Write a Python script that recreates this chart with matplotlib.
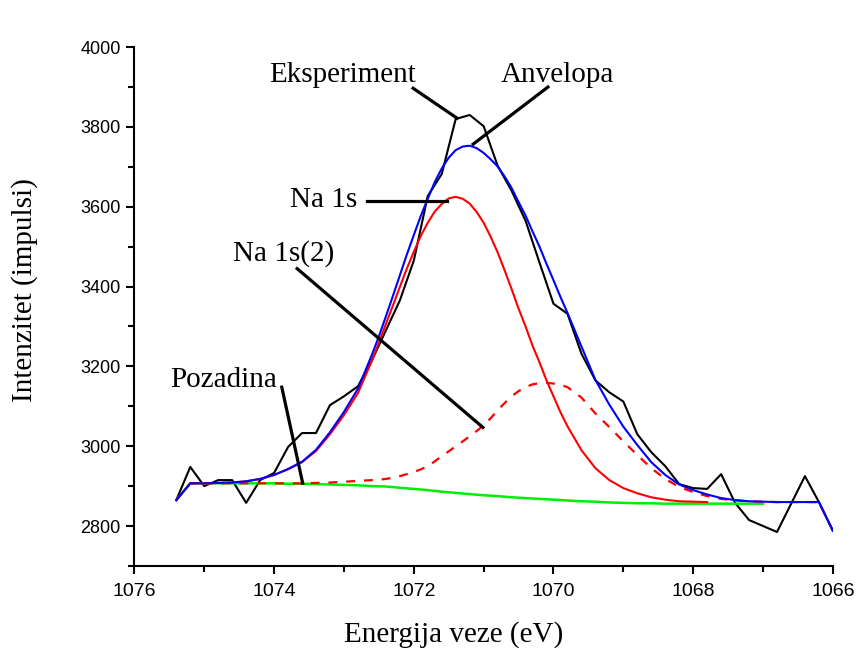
import matplotlib
matplotlib.use("Agg")
import matplotlib.pyplot as plt

# energy channels of the measurement (eV)
energy = [1075.4, 1075.2, 1075.0, 1074.8, 1074.6, 1074.4, 1074.2, 1074.0, 1073.8, 1073.6,
          1073.4, 1073.2, 1073.0, 1072.8, 1072.6, 1072.4, 1072.2, 1072.0, 1071.8, 1071.6,
          1071.4, 1071.2, 1071.0, 1070.8, 1070.6, 1070.4, 1070.2, 1070.0, 1069.8, 1069.6,
          1069.4, 1069.2, 1069.0, 1068.8, 1068.6, 1068.4, 1068.2, 1068.0, 1067.8, 1067.6,
          1067.4, 1067.2, 1067.0, 1066.8, 1066.6, 1066.4, 1066.2, 1066.0]

eksperiment = [2865, 2948, 2900, 2915, 2915, 2858, 2915, 2933, 2998, 3033,
               3033, 3103, 3125, 3150, 3215, 3290, 3365, 3465, 3627, 3682,
               3820, 3830, 3802, 3703, 3640, 3565, 3460, 3357, 3332, 3232,
               3165, 3135, 3112, 3030, 2985, 2950, 2905, 2895, 2893, 2930,
               2858, 2815, 2800, 2785, 2855, 2925, 2860, 2788]

# fit curves are sampled finer around the peak
fit_energy = [1075.4, 1075.2, 1075.0, 1074.8, 1074.6, 1074.4, 1074.2, 1074.0, 1073.8, 1073.6,
              1073.4, 1073.2, 1073.0, 1072.8,
              1072.6, 1072.5, 1072.4, 1072.3, 1072.2, 1072.1, 1072.0, 1071.9, 1071.8, 1071.7,
              1071.6, 1071.5, 1071.4, 1071.3, 1071.2, 1071.1, 1071.0, 1070.9, 1070.8, 1070.7,
              1070.6, 1070.5, 1070.4, 1070.3, 1070.2, 1070.1, 1070.0, 1069.9, 1069.8,
              1069.6, 1069.4, 1069.2, 1069.0, 1068.8, 1068.6, 1068.4, 1068.2, 1068.0, 1067.8,
              1067.6, 1067.4, 1067.2, 1067.0, 1066.8, 1066.6, 1066.4, 1066.2, 1066.0]

anvelopa = [2865, 2907, 2907, 2908, 2909, 2912, 2918, 2928, 2943, 2961,
            2991, 3035, 3086, 3144,
            3229, 3275, 3325, 3376, 3428, 3480, 3529, 3577, 3620, 3662,
            3696, 3723, 3742, 3751, 3753, 3747, 3735, 3719, 3701, 3676,
            3647, 3612, 3578, 3538, 3500, 3457, 3416, 3374, 3334,
            3250, 3166, 3104, 3049, 3003, 2960, 2928, 2904, 2890, 2879,
            2870, 2865, 2862, 2861, 2860, 2860, 2860, 2860, 2788]

na1s2 = [2865, 2907, 2907, 2907, 2907, 2907, 2907, 2907, 2907, 2907,
         2908, 2909, 2911, 2913,
         2915, 2916, 2918, 2921, 2925, 2930, 2935, 2942, 2950, 2962,
         2975, 2987, 3000, 3012, 3025, 3038, 3052, 3070, 3090, 3108,
         3125, 3138, 3148, 3155, 3158, 3159, 3157, 3154, 3148,
         3122, 3082, 3048, 3012, 2978, 2945, 2918, 2898, 2885, 2875,
         2868, 2864, 2862, 2861, 2860, 2860, 2860, 2860, 2788]

# Na 1s stops at 1067.8 eV
na1s = [2865, 2907, 2907, 2908, 2909, 2912, 2918, 2928, 2942, 2960,
        2988, 3030, 3078, 3133,
        3214, 3259, 3306, 3352, 3399, 3445, 3487, 3527, 3560, 3588,
        3607, 3621, 3625, 3620, 3608, 3587, 3560, 3525, 3486, 3441,
        3394, 3345, 3300, 3252, 3210, 3165, 3125, 3085, 3050,
        2990, 2945, 2915, 2895, 2882, 2872, 2866, 2862, 2861, 2860]

# background stops at 1067.0 eV (measurement grid)
pozadina = [2865, 2907, 2907, 2907, 2907, 2907, 2907, 2907, 2906, 2906,
            2905, 2904, 2903, 2902, 2900, 2899, 2896, 2893, 2890, 2886,
            2883, 2880, 2877, 2875, 2872, 2870, 2868, 2866, 2864, 2862,
            2861, 2859, 2858, 2857, 2857, 2856, 2856, 2856, 2856, 2856,
            2856, 2856, 2856]

serif = "Liberation Serif"
sans = "Liberation Sans"

fig = plt.figure(figsize=(8.56, 6.55), dpi=100)
ax = fig.add_axes([0.157, 0.136, 0.816, 0.792])

ax.plot(energy, eksperiment, color="black", lw=1.5)
ax.plot(energy[:len(pozadina)], pozadina, color="#00ee00", lw=1.8)
ax.plot(fit_energy, na1s2, color="red", lw=1.6, dashes=(4, 4))
ax.plot(fit_energy[:len(na1s)], na1s, color="red", lw=1.5)
ax.plot(fit_energy, anvelopa, color="blue", lw=1.5)

ax.set_xlim(1076, 1066)
ax.set_ylim(2700, 4000)
ax.set_xticks([1076, 1074, 1072, 1070, 1068, 1066])
ax.set_xticks([1075, 1073, 1071, 1069, 1067], minor=True)
ax.set_yticks(range(2800, 4001, 200))
ax.set_yticks(range(2700, 4000, 200), minor=True)
for s in ["top", "right"]:
    ax.spines[s].set_visible(False)
for s in ["left", "bottom"]:
    ax.spines[s].set_linewidth(1.5)
ax.tick_params(which="major", direction="out", length=6, width=1.5)
ax.tick_params(which="minor", direction="out", length=4, width=1.5)
ax.tick_params(axis="x", pad=6)
ax.tick_params(axis="y", pad=4)
for lab in ax.get_xticklabels():
    lab.set_fontfamily(sans)
    lab.set_fontsize(14)
for lab in ax.get_yticklabels():
    lab.set_fontfamily(sans)
    lab.set_fontsize(13)

fig.text(0.530, 0.032, "Energija veze (eV)", family=serif, fontsize=21,
         ha="center", va="center")
fig.text(0.029, 0.557, "Intenzitet (impulsi)", family=serif, fontsize=21,
         ha="center", va="center", rotation=90)

# labels with leader lines
labels = ["Eksperiment", "Anvelopa", "Na 1s", "Na 1s(2)", "Pozadina"]
label_xy = [(1073.02, 3912), (1069.95, 3912), (1073.29, 3600), (1073.87, 3465), (1074.72, 3148)]
leaders = [((1072.01, 1071.38), (3897, 3822)),
           ((1070.08, 1071.15), (3900, 3757)),
           ((1072.67, 1071.53), (3615, 3615)),
           ((1073.67, 1071.01), (3445, 3047)),
           ((1073.89, 1073.59), (3148, 2907))]
for t, (tx, ty), (lx, ly) in zip(labels, label_xy, leaders):
    ax.text(tx, ty, t, family=serif, fontsize=21, ha="center", va="baseline")
    ax.plot(lx, ly, color="black", lw=2.3)

fig.savefig("out.png", dpi=100)
